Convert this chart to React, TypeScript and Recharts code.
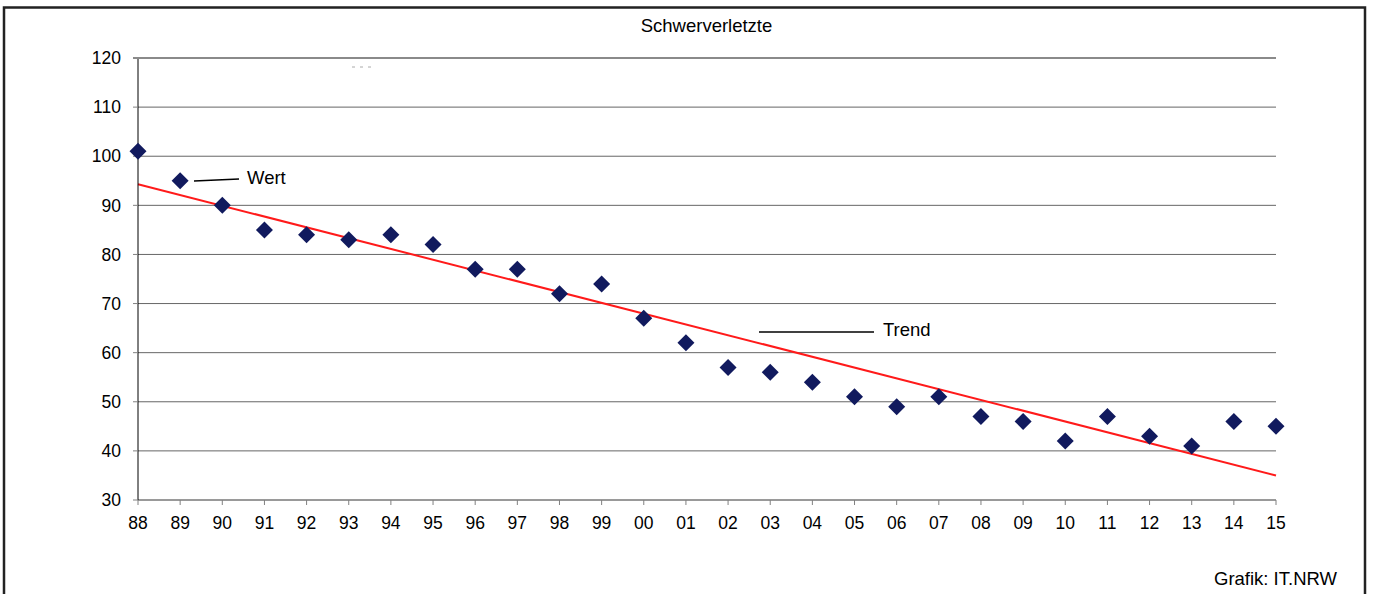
import { ComposedChart, Line, XAxis, YAxis, CartesianGrid } from 'recharts';

const years = ['88', '89', '90', '91', '92', '93', '94', '95', '96', '97', '98', '99', '00', '01', '02', '03', '04', '05', '06', '07', '08', '09', '10', '11', '12', '13', '14', '15'];
const wert = [101, 95, 90, 85, 84, 83, 84, 82, 77, 77, 72, 74, 67, 62, 57, 56, 54, 51, 49, 51, 47, 46, 42, 47, 43, 41, 46, 45];
// trend line: only the two ends are known, the line joins them
const trendStart = 94.3;
const trendEnd = 35.0;
const yTicks = [30, 40, 50, 60, 70, 80, 90, 100, 110, 120];

const data = years.map((year, i) => ({
  year,
  wert: wert[i],
  trend: i === 0 ? trendStart : i === years.length - 1 ? trendEnd : null,
}));

const FONT = '"Liberation Sans", Arial, sans-serif';

function Diamond(props: any) {
  const { cx, cy } = props;
  if (cx == null || cy == null) return null;
  const r = 8.5;
  return (
    <polygon
      points={`${cx},${cy - r} ${cx + r},${cy} ${cx},${cy + r} ${cx - r},${cy}`}
      fill="#111a5e"
    />
  );
}

export default function App() {
  return (
    <div style={{ position: 'absolute', left: 0, top: 0, width: 1373, height: 594, background: '#fff', fontFamily: FONT, overflow: 'hidden' }}>
      <ComposedChart
        width={1373}
        height={594}
        data={data}
        margin={{ top: 58, right: 97, left: 78, bottom: 64 }}
      >
        <CartesianGrid vertical={false} stroke="#666" />
        <XAxis
          dataKey="year"
          interval={0}
          height={30}
          tickSize={5}
          tickMargin={12}
          axisLine={{ stroke: '#808080' }}
          tickLine={{ stroke: '#808080' }}
          tick={{ fill: '#000', fontSize: 17.5, fontFamily: FONT }}
        />
        <YAxis
          width={60}
          domain={[30, 120]}
          ticks={yTicks}
          interval={0}
          tickSize={5}
          tickMargin={12}
          axisLine={{ stroke: '#000' }}
          tickLine={{ stroke: '#808080' }}
          tick={{ fill: '#000', fontSize: 17.5, fontFamily: FONT }}
        />
        <Line
          dataKey="trend"
          stroke="#ff1a1a"
          strokeWidth={2}
          connectNulls
          dot={false}
          activeDot={false}
          isAnimationActive={false}
        />
        <Line
          dataKey="wert"
          stroke="none"
          dot={<Diamond />}
          activeDot={false}
          isAnimationActive={false}
        />
      </ComposedChart>

      <svg
        width={1373}
        height={594}
        style={{ position: 'absolute', left: 0, top: 0, pointerEvents: 'none', display: 'block' }}
      >
        {/* frame, open at the bottom */}
        <path d="M4,600 L4,7.5 L1365,7.5 L1365,600" fill="none" stroke="#222" strokeWidth={2.5} />
        {/* top plot border */}
        <line x1={133} y1={58} x2={1276} y2={58} stroke="#8a8a8a" strokeWidth={2} />

        <text x={706.5} y={32} textAnchor="middle" fontSize={18.5} fontFamily={FONT} fill="#000">
          Schwerverletzte
        </text>

        <line x1={352} y1={67} x2={374} y2={67} stroke="#aaa" strokeWidth={1} strokeDasharray="3 5" />

        <line x1={194} y1={181} x2={239} y2={179} stroke="#000" strokeWidth={1.5} />
        <text x={247} y={184} fontSize={18.5} fontFamily={FONT} fill="#000">
          Wert
        </text>

        <line x1={759} y1={332} x2={874} y2={332} stroke="#000" strokeWidth={1.5} />
        <text x={883} y={336} fontSize={18.5} fontFamily={FONT} fill="#000">
          Trend
        </text>

        <text x={1337} y={585} textAnchor="end" fontSize={18.5} fontFamily={FONT} fill="#000">
          Grafik: IT.NRW
        </text>
      </svg>
    </div>
  );
}
